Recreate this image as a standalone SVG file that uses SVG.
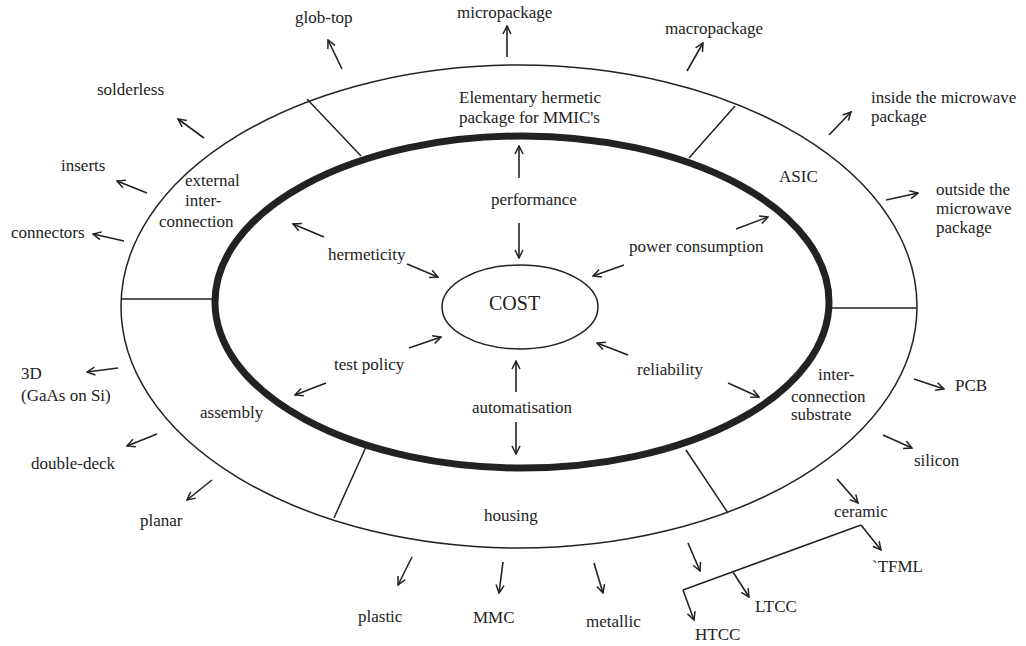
<svg xmlns="http://www.w3.org/2000/svg" width="1026" height="646" viewBox="0 0 1026 646">
<defs>
<style>
text{font-family:"Liberation Serif","Times New Roman",serif;font-size:17px;fill:#222}
.ln{fill:none;stroke:#222;stroke-width:1.5}
.ar{fill:none;stroke:#222;stroke-width:1.6;marker-end:url(#ah)}
</style>
<marker id="ah" viewBox="0 0 10 10" refX="9" refY="5" markerWidth="10" markerHeight="10" markerUnits="userSpaceOnUse" orient="auto"><path d="M1,1 L9,5 L1,9" fill="none" stroke="#222" stroke-width="1.5"/></marker>
</defs>
<rect width="1026" height="646" fill="#fff"/>
<g id="rings">
<ellipse cx="519" cy="306.5" rx="398" ry="241.5" class="ln"/>
<ellipse cx="522" cy="302" rx="307" ry="166" fill="none" stroke="#222" stroke-width="7"/>
<line x1="307" y1="99" x2="361" y2="156" class="ln"/>
<line x1="735" y1="106" x2="689" y2="158" class="ln"/>
<line x1="121" y1="299" x2="215" y2="299" class="ln"/>
<line x1="831" y1="308" x2="917" y2="308" class="ln"/>
<line x1="366" y1="447" x2="334" y2="518" class="ln"/>
<line x1="686" y1="450" x2="728" y2="513" class="ln"/>
</g>
<g id="cost"><ellipse cx="520" cy="307" rx="78" ry="42" class="ln"/><text x="489" y="310" style="font-size:20px">COST</text></g>
<g id="seg-mmic"><text x="459" y="103">Elementary hermetic</text><text x="459" y="123">package for MMIC's</text></g>
<g id="seg-asic"><text x="779" y="182">ASIC</text></g>
<g id="seg-external"><text x="185" y="186">external</text><text x="185" y="206">inter-</text><text x="159" y="227">connection</text></g>
<g id="seg-assembly"><text x="200" y="418">assembly</text></g>
<g id="seg-housing"><text x="484" y="521">housing</text></g>
<g id="seg-substrate"><text x="818" y="380">inter-</text><text x="791" y="402">connection</text><text x="791" y="420">substrate</text></g>
<g id="f-performance"><text x="491" y="205">performance</text></g>
<g id="f-hermeticity"><text x="328" y="260">hermeticity</text></g>
<g id="f-power"><text x="629" y="252">power consumption</text></g>
<g id="f-test"><text x="334" y="370">test policy</text></g>
<g id="f-automatisation"><text x="472" y="413">automatisation</text></g>
<g id="f-reliability"><text x="637" y="375">reliability</text></g>
<g id="o-globtop"><text x="295" y="23">glob-top</text></g>
<g id="o-micro"><text x="457" y="18">micropackage</text></g>
<g id="o-macro"><text x="665" y="34">macropackage</text></g>
<g id="o-inside"><text x="871" y="103">inside the microwave</text><text x="871" y="122">package</text></g>
<g id="o-outside"><text x="936" y="195">outside the</text><text x="936" y="214">microwave</text><text x="936" y="233">package</text></g>
<g id="o-solderless"><text x="97" y="95">solderless</text></g>
<g id="o-inserts"><text x="61" y="171">inserts</text></g>
<g id="o-connectors"><text x="11" y="238">connectors</text></g>
<g id="o-3d"><text x="21" y="379">3D</text><text x="21" y="401">(GaAs on Si)</text></g>
<g id="o-double"><text x="31" y="469">double-deck</text></g>
<g id="o-planar"><text x="140" y="526">planar</text></g>
<g id="o-plastic"><text x="358" y="622">plastic</text></g>
<g id="o-mmc"><text x="473" y="623">MMC</text></g>
<g id="o-metallic"><text x="586" y="627">metallic</text></g>
<g id="o-htcc"><text x="695" y="640">HTCC</text></g>
<g id="o-ltcc"><text x="755" y="612">LTCC</text></g>
<g id="o-tfml"><text x="872" y="572">`TFML</text></g>
<g id="o-ceramic"><text x="834" y="517">ceramic</text></g>
<g id="o-silicon"><text x="914" y="466">silicon</text></g>
<g id="o-pcb"><text x="955" y="391">PCB</text></g>
<g id="connectors">
<line x1="519" y1="178" x2="519" y2="146" class="ar"/>
<line x1="519" y1="223" x2="519" y2="258" class="ar"/>
<line x1="324" y1="237" x2="293" y2="224" class="ar"/>
<line x1="407" y1="264" x2="438" y2="277" class="ar"/>
<line x1="736" y1="229" x2="768" y2="217" class="ar"/>
<line x1="624" y1="265" x2="593" y2="276" class="ar"/>
<line x1="409" y1="348" x2="441" y2="337" class="ar"/>
<line x1="326" y1="383" x2="295" y2="395" class="ar"/>
<line x1="516" y1="392" x2="516" y2="361" class="ar"/>
<line x1="516" y1="422" x2="516" y2="454" class="ar"/>
<line x1="628" y1="355" x2="597" y2="343" class="ar"/>
<line x1="728" y1="383" x2="759" y2="397" class="ar"/>
<line x1="342" y1="69" x2="328" y2="40" class="ar"/>
<line x1="507" y1="57" x2="507" y2="26" class="ar"/>
<line x1="687" y1="71" x2="703" y2="43" class="ar"/>
<line x1="829" y1="135" x2="851" y2="112" class="ar"/>
<line x1="886" y1="200" x2="918" y2="193" class="ar"/>
<line x1="204" y1="138" x2="178" y2="119" class="ar"/>
<line x1="147" y1="193" x2="117" y2="181" class="ar"/>
<line x1="124" y1="241" x2="93" y2="234" class="ar"/>
<line x1="118" y1="368" x2="87" y2="372" class="ar"/>
<line x1="157" y1="434" x2="127" y2="446" class="ar"/>
<line x1="212" y1="480" x2="187" y2="500" class="ar"/>
<line x1="412" y1="557" x2="398" y2="585" class="ar"/>
<line x1="503" y1="562" x2="499" y2="593" class="ar"/>
<line x1="594" y1="563" x2="603" y2="593" class="ar"/>
<line x1="688" y1="543" x2="700" y2="571" class="ar"/>
<line x1="914" y1="379" x2="944" y2="389" class="ar"/>
<line x1="883" y1="435" x2="912" y2="448" class="ar"/>
<line x1="837" y1="479" x2="858" y2="503" class="ar"/>
<line x1="683" y1="590" x2="861" y2="525" class="ln"/>
<line x1="861" y1="525" x2="881" y2="550" class="ar"/>
<line x1="683" y1="590" x2="694" y2="620" class="ar"/>
<line x1="733" y1="572" x2="749" y2="597" class="ar"/>
</g>
</svg>
